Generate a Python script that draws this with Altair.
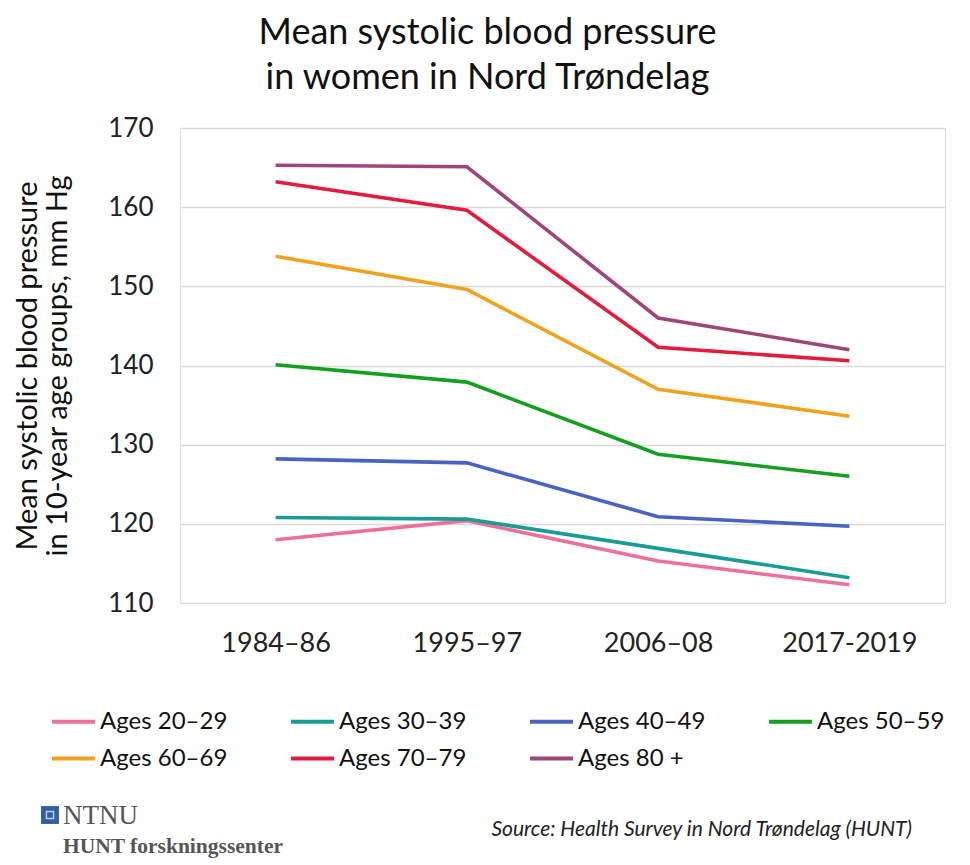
import altair as alt
import pandas as pd

periods = ["1984–86", "1995–97", "2006–08", "2017-2019"]
ages = ["Ages 20–29", "Ages 30–39", "Ages 40–49", "Ages 50–59",
        "Ages 60–69", "Ages 70–79", "Ages 80 +"]
colors = ["#ee6f9a", "#189c94", "#4a62c2", "#14a01e",
          "#f0a21c", "#e31b3c", "#a0457a"]

v20 = [118.0, 120.4, 115.3, 112.3]
v30 = [120.8, 120.6, 116.9, 113.2]
v40 = [128.2, 127.7, 120.9, 119.7]
v50 = [140.1, 137.9, 128.8, 126.0]
v60 = [153.8, 149.6, 137.0, 133.6]
v70 = [163.2, 159.6, 142.3, 140.6]
v80 = [165.3, 165.1, 146.0, 142.0]
series = [v20, v30, v40, v50, v60, v70, v80]

title_lines = ["Mean systolic blood pressure", "in women in Nord Trøndelag"]
ytitle_lines = ["Mean systolic blood pressure", "in 10-year age groups, mm Hg"]
source_text = "Source: Health Survey in Nord Trøndelag (HUNT)"
logo_text = "NTNU"
logo_sub = "HUNT forskningssenter"

rows = []
for age, vals in zip(ages, series):
    for p, v in zip(periods, vals):
        rows.append({"period": p, "age": age, "value": v})
df = pd.DataFrame(rows)

FONT = "Lato"

lines = alt.Chart(df).mark_line(strokeWidth=3.6).encode(
    x=alt.X("period:N", sort=periods, scale=alt.Scale(paddingOuter=0.5),
            axis=alt.Axis(title=None, labelAngle=0, labelFontSize=27,
                          labelFont=FONT, labelColor="#222", labelPadding=27,
                          domain=False, ticks=False, grid=False)),
    y=alt.Y("value:Q", scale=alt.Scale(domain=[110, 170], nice=False, zero=False),
            axis=alt.Axis(title=ytitle_lines, values=[110, 120, 130, 140, 150, 160, 170],
                          labelFontSize=26, labelFont=FONT, labelColor="#222",
                          labelPadding=27, titleFontSize=29, titleFont=FONT,
                          titleFontWeight="normal", titleColor="#111",
                          titlePadding=35, titleLineHeight=30,
                          domain=False, ticks=False, gridColor="#d9d9d9",
                          gridWidth=1.5)),
    color=alt.Color("age:N", scale=alt.Scale(domain=ages, range=colors),
                    legend=alt.Legend(title=None, orient="none", legendX=-130,
                                      legendY=570, columns=4, direction="horizontal",
                                      symbolType="stroke",
                                      symbolSize=1849, symbolStrokeWidth=4,
                                      labelFontSize=24, labelFont=FONT,
                                      labelColor="#111", labelOffset=3,
                                      labelLimit=300, rowPadding=1,
                                      columnPadding=55, gridAlign="all",
                                      padding=0)),
)

one = pd.DataFrame({"k": [0]})

logo_sq = alt.Chart(one).mark_square(size=320, color="#2f5fa8", opacity=1).encode(
    x=alt.value(-130), y=alt.value(687))
logo_inner = alt.Chart(one).mark_square(size=50, filled=False, stroke="white",
                                        strokeWidth=1.5).encode(
    x=alt.value(-130), y=alt.value(687))
logo_t = alt.Chart(one).mark_text(text=logo_text, font="Liberation Serif",
                                  fontSize=27, align="left", baseline="middle",
                                  color="#555").encode(
    x=alt.value(-117), y=alt.value(688))
logo_s = alt.Chart(one).mark_text(text=logo_sub, font="Liberation Serif",
                                  fontSize=21.5, fontWeight="bold", align="left",
                                  baseline="middle", color="#555").encode(
    x=alt.value(-117), y=alt.value(719))
src = alt.Chart(one).mark_text(text=source_text, font=FONT, fontSize=21,
                               fontStyle="italic", align="right",
                               baseline="middle", color="#222").encode(
    x=alt.value(732), y=alt.value(702))

chart = alt.layer(lines, logo_sq, logo_inner, logo_t, logo_s, src).properties(
    width=765, height=475,
    title=alt.TitleParams(text=title_lines, fontSize=36, font=FONT,
                          fontWeight="normal", color="#111", anchor="middle",
                          dx=-75, offset=18, lineHeight=45),
    autosize=alt.AutoSizeParams(type="none"),
    padding={"left": 172, "top": 120, "right": 10, "bottom": 262},
).configure_view(stroke=None).configure(background="white")

chart.save("out.html", embed_options={"renderer": "svg", "actions": False})
